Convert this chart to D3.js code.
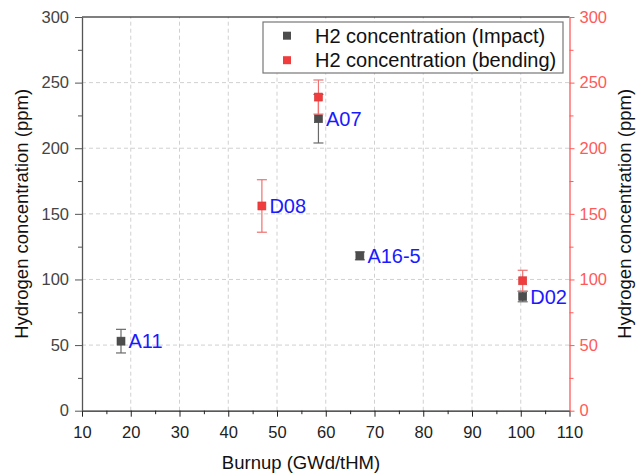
<!DOCTYPE html>
<html>
<head>
<meta charset="utf-8">
<script src="https://cdn.jsdelivr.net/npm/d3@7"></script>
<style>
  html, body { margin: 0; padding: 0; background: #fff; }
  svg { display: block; font-family: "Liberation Sans", Arial, sans-serif; }
</style>
</head>
<body>
<svg id="chart" width="637" height="474"></svg>
<script>
// Samples (burnup in GWd/tHM, hydrogen concentration in ppm)
const impactNames  = ["A11", "A07", "A16-5", "D02"];
const impactBurnup = [18, 58.5, 67, 100.4];
const impactH2     = [53, 222.5, 118, 87];
const impactErr    = [9, 18.5, 3, 4];

const bendingNames  = ["D08", "A07", "D02"];
const bendingBurnup = [46.9, 58.5, 100.4];
const bendingH2     = [156, 239, 99];
const bendingErr    = [20, 13, 8];

// Samples whose name is written next to the marker, and which series it follows
const labelNames  = ["A11", "D08", "A07", "A16-5", "D02"];
const labelSeries = ["impact", "bending", "impact", "impact", "impact"];

const xTicks = [10, 20, 30, 40, 50, 60, 70, 80, 90, 100, 110];
const yTicks = [0, 50, 100, 150, 200, 250, 300];
const legendLabels = ["H2 concentration (Impact)", "H2 concentration (bending)"];

const svg = d3.select("#chart");
const m = { left: 82, right: 637 - 569.5, top: 17, bottom: 474 - 410.7 };
const W = 637 - m.left - m.right, H = 474 - m.top - m.bottom;

const x = d3.scaleLinear().domain([10, 110]).range([m.left, m.left + W]);
const y = d3.scaleLinear().domain([0, 300]).range([m.top + H, m.top]);

const gray = "#4d4d4d", red = "#f03c3c", axisRed = "#ff5a5a", blue = "#1a1aff";

// grid
svg.append("g").selectAll("line").data(xTicks.slice(1, -1)).join("line")
  .attr("x1", d => x(d)).attr("x2", d => x(d))
  .attr("y1", y(0)).attr("y2", y(300))
  .attr("stroke", "#d0d0d0").attr("stroke-dasharray", "4,3");
svg.append("g").selectAll("line").data(yTicks.slice(1, -1)).join("line")
  .attr("x1", x(10)).attr("x2", x(110))
  .attr("y1", d => y(d)).attr("y2", d => y(d))
  .attr("stroke", "#d0d0d0").attr("stroke-dasharray", "4,3");

// top frame
svg.append("line").attr("x1", x(10)).attr("x2", x(110))
  .attr("y1", y(300)).attr("y2", y(300)).attr("stroke", "#000").attr("stroke-width", 1.2);

function styleAxis(g, color) {
  g.selectAll("path,line").attr("stroke", color);
  g.selectAll("text").attr("fill", color).style("font-size", "16.5px")
    .style("font-family", "'Liberation Sans', Arial, sans-serif");
  g.select(".domain").attr("stroke-width", 1.3);
}

const minorX = d3.range(15, 110, 10);
const minorY = d3.range(25, 300, 50);

// bottom axis
const gx = svg.append("g").attr("transform", `translate(0,${y(0)})`)
  .call(d3.axisBottom(x).tickValues(xTicks).tickSize(6).tickPadding(10).tickSizeOuter(0));
styleAxis(gx, "#222");
svg.append("g").attr("transform", `translate(0,${y(0)})`)
  .call(d3.axisBottom(x).tickValues(minorX).tickSize(3.5).tickFormat("").tickSizeOuter(0))
  .call(g => { g.select(".domain").remove(); g.selectAll("line").attr("stroke", "#222"); });

// left axis
const gy = svg.append("g").attr("transform", `translate(${x(10)},0)`)
  .call(d3.axisLeft(y).tickValues(yTicks).tickSize(7).tickPadding(6).tickSizeOuter(0));
styleAxis(gy, "#555");
gy.selectAll("text").attr("fill", "#444");
svg.append("g").attr("transform", `translate(${x(10)},0)`)
  .call(d3.axisLeft(y).tickValues(minorY).tickSize(4).tickFormat("").tickSizeOuter(0))
  .call(g => { g.select(".domain").remove(); g.selectAll("line").attr("stroke", "#555"); });

// right axis
const gr = svg.append("g").attr("transform", `translate(${x(110)},0)`)
  .call(d3.axisRight(y).tickValues(yTicks).tickSize(5).tickPadding(5).tickSizeOuter(0));
styleAxis(gr, axisRed);
svg.append("g").attr("transform", `translate(${x(110)},0)`)
  .call(d3.axisRight(y).tickValues(minorY).tickSize(4).tickFormat("").tickSizeOuter(0))
  .call(g => { g.select(".domain").remove(); g.selectAll("line").attr("stroke", axisRed); });

// axis titles
svg.append("text").attr("x", 301).attr("y", 469)
  .attr("text-anchor", "middle").style("font-size", "18.5px").attr("fill", "#111")
  .text("Burnup (GWd/tHM)");
svg.append("text").attr("transform", `translate(28,${(y(0) + y(300)) / 2}) rotate(-90)`)
  .attr("text-anchor", "middle").style("font-size", "18.5px").attr("fill", "#111")
  .text("Hydrogen concentration (ppm)");
svg.append("text").attr("transform", `translate(631,${(y(0) + y(300)) / 2}) rotate(-90)`)
  .attr("text-anchor", "middle").style("font-size", "18.5px").attr("fill", "#111")
  .text("Hydrogen concentration (ppm)");

// error bars + markers
function drawSeries(xs, ys, es, color, errColor) {
  const g = svg.append("g");
  const idx = d3.range(xs.length);
  const cap = 5;
  g.selectAll(".eb").data(idx).join("line")
    .attr("x1", i => x(xs[i])).attr("x2", i => x(xs[i]))
    .attr("y1", i => y(ys[i] - es[i])).attr("y2", i => y(ys[i] + es[i]))
    .attr("stroke", errColor).attr("stroke-width", 1.2);
  ["-", "+"].forEach(s => {
    g.selectAll(".cap" + (s === "-" ? "l" : "h")).data(idx).join("line")
      .attr("x1", i => x(xs[i]) - cap).attr("x2", i => x(xs[i]) + cap)
      .attr("y1", i => y(s === "-" ? ys[i] - es[i] : ys[i] + es[i]))
      .attr("y2", i => y(s === "-" ? ys[i] - es[i] : ys[i] + es[i]))
      .attr("stroke", errColor).attr("stroke-width", 1.2);
  });
  g.selectAll("rect").data(idx).join("rect")
    .attr("x", i => x(xs[i]) - 4).attr("y", i => y(ys[i]) - 4)
    .attr("width", 8).attr("height", 8)
    .attr("fill", color).attr("stroke", d3.color(color).darker(0.3)).attr("stroke-width", 0.6);
}
drawSeries(impactBurnup, impactH2, impactErr, gray, "#6a6a6a");
drawSeries(bendingBurnup, bendingH2, bendingErr, red, "#f07070");

// sample labels
labelNames.forEach((name, k) => {
  const isImpact = labelSeries[k] === "impact";
  const names = isImpact ? impactNames : bendingNames;
  const i = names.indexOf(name);
  const bx = isImpact ? impactBurnup[i] : bendingBurnup[i];
  const hv = isImpact ? impactH2[i] : bendingH2[i];
  svg.append("text").attr("x", x(bx) + 7.5).attr("y", y(hv))
    .attr("dy", "0.36em").style("font-size", "20px").attr("fill", blue).text(name);
});

// legend
const lg = svg.append("g");
lg.append("rect").attr("x", 263).attr("y", 22).attr("width", 300).attr("height", 51)
  .attr("fill", "#fff").attr("stroke", "#777").attr("stroke-width", 1.2);
[gray, red].forEach((c, i) => {
  lg.append("rect").attr("x", 283).attr("y", 35.7 + i * 24.5 - 4).attr("width", 8).attr("height", 8).attr("fill", c);
  lg.append("text").attr("x", 315).attr("y", 35.7 + i * 24.5).attr("dy", "0.36em")
    .style("font-size", "20px").attr("fill", "#111").text(legendLabels[i]);
});
</script>
</body>
</html>
